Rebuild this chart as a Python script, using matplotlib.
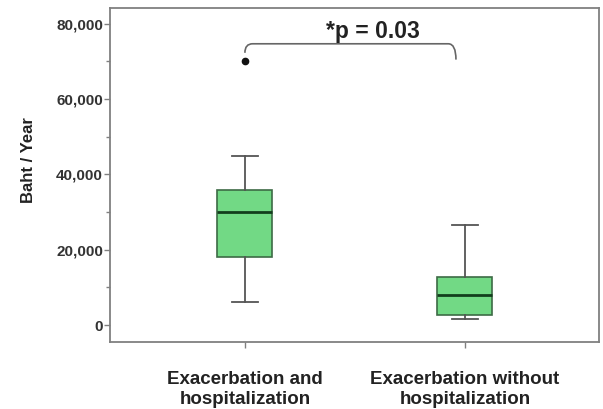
import matplotlib.pyplot as plt
from matplotlib.path import Path
from matplotlib.patches import PathPatch
from matplotlib.ticker import MultipleLocator, FuncFormatter

plt.rcParams['font.family'] = ['Liberation Sans', 'DejaVu Sans']

groups = ["Exacerbation and\nhospitalization", "Exacerbation without\nhospitalization"]
whislo = [6100, 1600]
q1 = [18000, 2700]
med = [30000, 8000]
q3 = [35800, 12800]
whishi = [44800, 26500]
fliers = [[70000], []]
p_text = "*p = 0.03"

stats = []
for i in range(len(groups)):
    stats.append(dict(whislo=whislo[i], q1=q1[i], med=med[i], q3=q3[i],
                      whishi=whishi[i], fliers=fliers[i], label=groups[i]))

fig = plt.figure(figsize=(6.03, 4.09), dpi=100)
ax = fig.add_axes([0.1824, 0.1638, 0.811, 0.8166])

edge = "#3d6b45"
ax.bxp(stats, positions=[1, 2], widths=0.25, capwidths=0.12, patch_artist=True,
       boxprops=dict(facecolor="#72d985", edgecolor=edge, linewidth=1.2),
       medianprops=dict(color="#123d1c", linewidth=2.0),
       whiskerprops=dict(color="#555555", linewidth=1.3),
       capprops=dict(color="#555555", linewidth=1.3),
       flierprops=dict(marker="o", markersize=4.5, markerfacecolor="#111111",
                       markeredgecolor="#111111"))

ax.set_xlim(0.387, 2.609)
ax.set_ylim(-4500, 84200)
ax.yaxis.set_major_locator(MultipleLocator(20000))
ax.yaxis.set_minor_locator(MultipleLocator(10000))
ax.yaxis.set_major_formatter(FuncFormatter(lambda v, p: f"{int(v):,}"))

for s in ax.spines.values():
    s.set_color("#808080")
    s.set_linewidth(1.3)

ax.tick_params(axis="y", which="major", length=4, width=1, color="#808080",
               labelsize=11, labelcolor="#333333", pad=1)
ax.tick_params(axis="y", which="minor", length=3, width=1, color="#808080")
ax.tick_params(axis="x", length=4, width=1, color="#808080", labelsize=13.5,
               labelcolor="#222222", pad=17)
for lab in ax.get_yticklabels() + ax.get_xticklabels():
    lab.set_fontweight("bold")

ax.set_ylabel("Baht / Year", fontsize=12, fontweight="bold", color="#222222")
ax.yaxis.set_label_coords(-0.152, 0.545)

# significance bracket
x1, x2, ytop, r = 1.0, 1.959, 74700, 0.035
verts = [(x1, 72300), (x1, ytop), (x1 + r, ytop), (x2 - r, ytop),
         (x2, ytop), (x2, 70500)]
codes = [Path.MOVETO, Path.CURVE3, Path.CURVE3, Path.LINETO, Path.CURVE3, Path.CURVE3]
ax.add_patch(PathPatch(Path(verts, codes), facecolor="none", edgecolor="#666666", lw=1.2))
ax.text(1.58, 75000, p_text, ha="center", va="bottom", fontsize=16.5,
        fontweight="bold", color="#222222")

fig.savefig("out.png", dpi=100)
